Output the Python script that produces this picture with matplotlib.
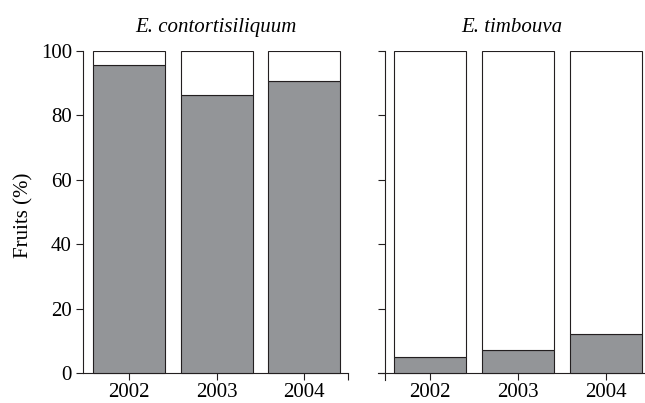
import matplotlib
matplotlib.use("Agg")
import matplotlib.pyplot as plt
import numpy as np

years = ["2002", "2003", "2004"]
species = ["E. contortisiliquum", "E. timbouva"]
contort_gray = [95.6, 86.2, 90.6]
timbouva_gray = [5.1, 7.0, 12.2]
yticks = [0, 20, 40, 60, 80, 100]

plt.rcParams['font.family'] = ['Liberation Serif', 'DejaVu Serif']
GRAY = '#939598'
EDGE = '#231f20'
FS = 15
LW = 0.8

fig = plt.figure(figsize=(6.45, 4.03), dpi=100)
bottom = 23 / 403
height = (380 - 51) / 403
ax1 = fig.add_axes([83 / 645, bottom, 265 / 645, height])
ax2 = fig.add_axes([378 / 645, bottom, 1 - 378 / 645, height])

x = np.arange(len(years))
for ax, vals, title in [(ax1, contort_gray, species[0]), (ax2, timbouva_gray, species[1])]:
    vals = np.array(vals)
    ax.bar(x, vals, width=0.82, color=GRAY, edgecolor=EDGE, linewidth=LW, zorder=3)
    ax.bar(x, 100 - vals, bottom=vals, width=0.82, color='white', edgecolor=EDGE, linewidth=LW, zorder=3)
    ax.set_ylim(-2.2, 100)
    ax.spines['top'].set_visible(False)
    ax.spines['right'].set_visible(False)
    ax.spines['bottom'].set_position(('data', 0))
    for s in ['left', 'bottom']:
        ax.spines[s].set_color(EDGE)
        ax.spines[s].set_linewidth(LW)
    ax.set_xticks(x)
    ax.set_xticklabels(years)
    ax.set_yticks(yticks)
    ax.tick_params(direction='out', length=5, width=LW, color=EDGE, labelsize=FS, pad=3)
    ax.tick_params(axis='x', pad=2.5)
    ax.set_title(title, fontsize=FS, style='italic', pad=14)
    ax.patch.set_visible(False)

ax1.set_xlim(-0.526, 2.5)
ax1.spines['left'].set_bounds(0, 100)
ax1.set_xticks([2.5], minor=True)
ax1.tick_params(axis='x', which='minor', direction='out', length=5, width=LW, color=EDGE)
ax1.set_ylabel('Fruits (%)', fontsize=FS, labelpad=5)

ax2.set_xlim(-0.59, 2.44)
ax2.spines['left'].set_position(('data', -0.51))
ax2.set_yticklabels([])

fig.savefig('out.png', dpi=100)
